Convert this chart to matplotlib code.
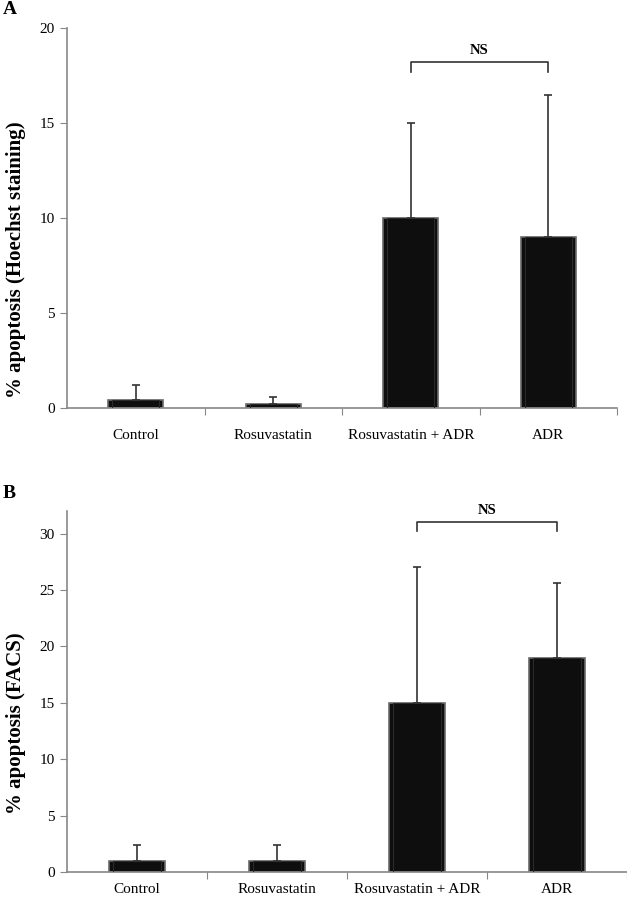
import numpy as np
import matplotlib
matplotlib.use('Agg')
import matplotlib.pyplot as plt

plt.rcParams['font.family'] = ['Liberation Serif', 'DejaVu Serif']

# data
groups = ['Control', 'Rosuvastatin', 'Rosuvastatin + ADR', 'ADR']
hoechst_mean = [0.4, 0.2, 10.0, 9.0]
hoechst_err = [0.8, 0.4, 5.0, 7.5]
facs_mean = [1.0, 1.0, 15.0, 19.0]
facs_err = [1.4, 1.4, 12.0, 6.6]
ns_a = 18.2
ns_b = 31.0

fig = plt.figure(figsize=(6.27, 9.0), dpi=100)
axA = fig.add_axes([67/627, 1 - 408/900, 550/627, 380/900])
axB = fig.add_axes([67/627, 1 - 872/900, 560/627, 361/900])

def draw_panel(ax, means, errs, ymax, yticks, ns_y, ns_drop, lab_pad):
    x = np.arange(len(groups))
    ax.bar(x, means, width=0.4, color='#0e0e0e', edgecolor='#6a6a6a',
           linewidth=1.2, zorder=2)
    # inner lighter bevel
    ax.bar(x, means, width=0.34, color='none', edgecolor='#2a2a2a',
           linewidth=0.8, zorder=3)
    ax.errorbar(x, means, yerr=[np.zeros(len(errs)), errs], fmt='none',
                ecolor='#333333', elinewidth=1.2, capsize=3, capthick=1.2,
                zorder=4)
    ax.set_xlim(-0.5, len(groups) - 0.5)
    ax.set_ylim(0, ymax)
    ax.set_yticks(yticks)
    ax.set_xticks(x + 0.5)
    ax.set_xticklabels([])
    ax.set_xticks(x, minor=True)
    ax.set_xticklabels(groups, minor=True, fontsize=11)
    ax.tick_params(axis='x', which='minor', length=0, pad=lab_pad)
    ax.tick_params(axis='x', which='major', length=5, color='#888888')
    ax.tick_params(axis='y', length=5, color='#888888', labelsize=11, pad=4)
    for s in ['top', 'right']:
        ax.spines[s].set_visible(False)
    for s in ['left', 'bottom']:
        ax.spines[s].set_color('#888888')
        ax.spines[s].set_linewidth(1.2)
    # NS bracket
    ax.plot([2, 2, 3, 3], [ns_y - ns_drop, ns_y, ns_y, ns_y - ns_drop],
            color='#333333', lw=1.2, clip_on=False)
    ax.text(2.5, ns_y + ns_drop * 0.6, 'NS', ha='center', va='bottom',
            fontsize=10.5, fontweight='bold')

draw_panel(axA, hoechst_mean, hoechst_err, 20, [0, 5, 10, 15, 20],
           ns_a, 0.5, 15)
draw_panel(axB, facs_mean, facs_err, 32, [0, 5, 10, 15, 20, 25, 30],
           ns_b, 0.8, 8)

fig.text(16/627, 1 - 260/900, '% apoptosis (Hoechst staining)', fontsize=15,
         fontweight='bold', rotation=90, ha='center', va='center')
fig.text(16/627, 1 - 723/900, '% apoptosis (FACS)', fontsize=15,
         fontweight='bold', rotation=90, ha='center', va='center')

fig.text(3/627, 1 - 10/900, 'A', fontsize=14, fontweight='bold',
         va='center', ha='left')
fig.text(3/627, 1 - 493/900, 'B', fontsize=14, fontweight='bold',
         va='center', ha='left')

fig.savefig('out.png', dpi=100)
